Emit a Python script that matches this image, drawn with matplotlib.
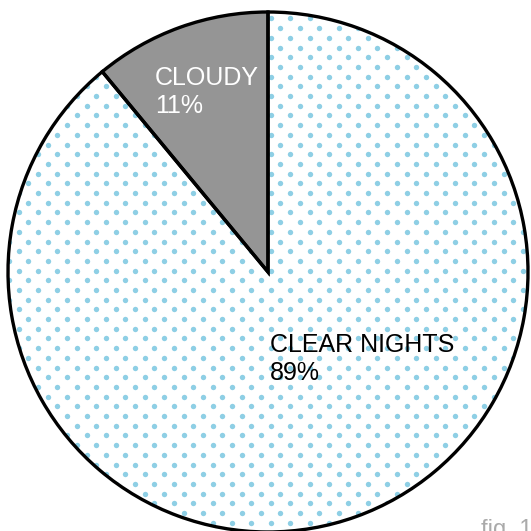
import matplotlib.pyplot as plt
import numpy as np

labels = ["CLOUDY", "CLEAR NIGHTS"]
shares = [11, 89]
fill_colors = ["#959595", "white"]
label_colors = ["white", "black"]

W = H = 531
plt.rcParams["font.family"] = ["Liberation Sans", "DejaVu Sans"]

fig = plt.figure(figsize=(W / 100, H / 100), dpi=100)
ax = fig.add_axes([0, 0, 1, 1])

# pie laid out in pixel units, y pointing up
cx, cy, r = 268, H - 272, 260

wedges, _ = ax.pie(shares, colors=fill_colors, startangle=90, counterclock=True,
                   center=(cx, cy), radius=r, frame=True,
                   wedgeprops=dict(linewidth=0, zorder=1))

# dotted fill texture for the clear-nights slice
rows = []
for j in range(-1, 58):
    xs = np.arange(-1, 29) * 19.4 + 8.9 + (j % 2) * 9.7
    ys = np.full_like(xs, H - (8.7 + j * 9.7))
    rows.append(np.column_stack([xs, ys]))
dots = np.vstack(rows)
sc = ax.scatter(dots[:, 0], dots[:, 1], s=15, color="#8ecfe5", linewidths=0, zorder=2)
sc.set_clip_path(wedges[1])

# outlines on top of the texture
ax.pie(shares, colors=["none", "none"], startangle=90, counterclock=True,
       center=(cx, cy), radius=r, frame=True,
       wedgeprops=dict(facecolor="none", edgecolor="black", linewidth=2.4, zorder=3))

label_pos = [(155, 66), (270, 333)]
for lab, val, col, (tx, ty) in zip(labels, shares, label_colors, label_pos):
    ax.text(tx, H - ty, f"{lab}\n{val}%", color=col, fontsize=18, ha="left", va="top",
            linespacing=1.2, zorder=4)

ax.text(481, H - 519, "fig. 1", color="#aaaaaa", fontsize=17, ha="left", va="top", zorder=4)

ax.set_xlim(0, W)
ax.set_ylim(0, H)
ax.axis("off")
fig.savefig("out.png", dpi=100)
